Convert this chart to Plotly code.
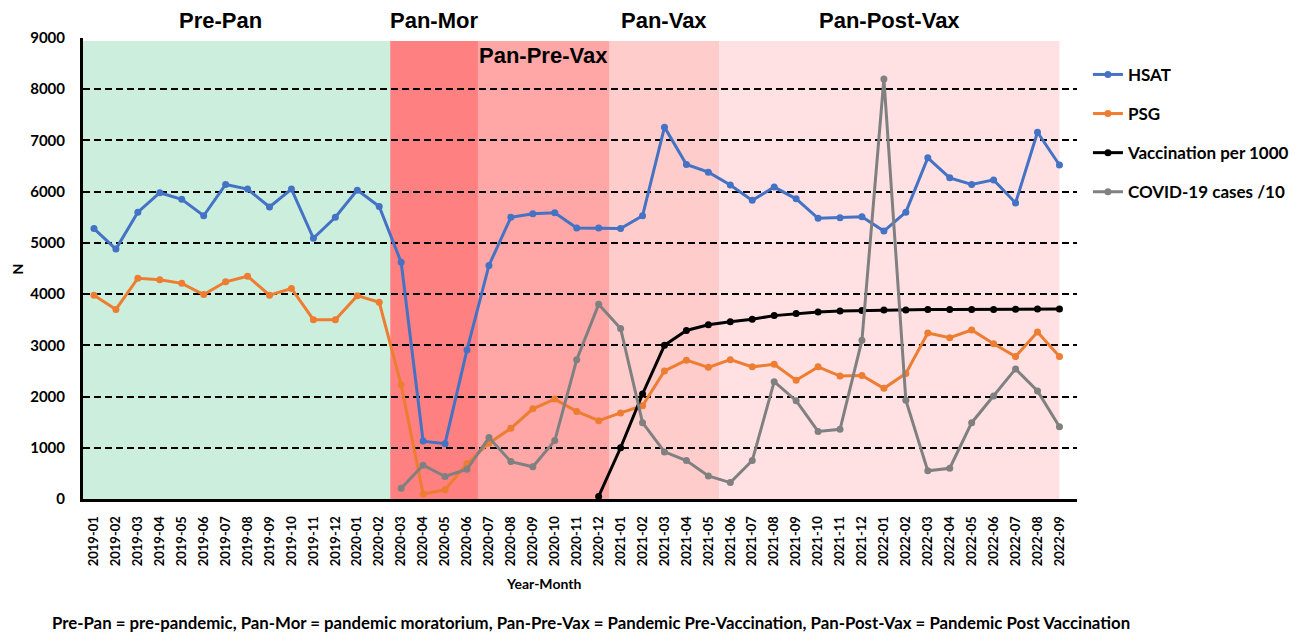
import plotly.graph_objects as go

months = [f"{y}-{m:02d}" for y in (2019, 2020, 2021) for m in range(1, 13)] + [f"2022-{m:02d}" for m in range(1, 10)]

hsat = [5280, 4880, 5600, 5980, 5850, 5530, 6140, 6050, 5700, 6050, 5090, 5500,
        6030, 5710, 4620, 1130, 1080, 2910, 4560, 5500, 5570, 5590, 5290, 5290,
        5280, 5530, 7260, 6530, 6380, 6130, 5830, 6090, 5860, 5480, 5490, 5510,
        5230, 5600, 6660, 6270, 6140, 6230, 5780, 7160, 6520]

psg = [3980, 3700, 4310, 4280, 4210, 3990, 4240, 4350, 3980, 4110, 3500, 3500,
       3970, 3840, 2230, 100, 180, 690, 1090, 1380, 1760, 1950, 1710, 1530,
       1680, 1820, 2500, 2710, 2570, 2720, 2580, 2630, 2320, 2580, 2400, 2410,
       2160, 2450, 3240, 3150, 3300, 3030, 2780, 3260, 2780]

vacc = [None] * 23 + [50, 1000, 2050, 3000, 3290, 3400, 3460, 3510, 3580, 3620, 3650,
                      3670, 3680, 3690, 3690, 3700, 3700, 3700, 3700, 3705, 3710, 3710]

covid = [None] * 14 + [210, 660, 440, 580, 1200, 730, 630, 1140, 2720, 3800,
                       3330, 1490, 920, 750, 450, 320, 750, 2290, 1920, 1320, 1360, 3100,
                       8200, 1930, 550, 600, 1490, 2010, 2540, 2110, 1410]

regions = [
    ("Pre-Pan", "2019-01", "2020-02", "rgb(204,238,221)", "top", -16),
    ("Pan-Mor", "2020-03", "2020-06", "rgb(255,128,128)", "top", 0),
    ("Pan-Pre-Vax", "2020-07", "2020-12", "rgb(255,166,166)", "inner", 0),
    ("Pan-Vax", "2021-01", "2021-05", "rgb(255,204,204)", "top", 0),
    ("Pan-Post-Vax", "2021-06", "2022-09", "rgb(255,225,228)", "top", 0),
]

series = [
    ("HSAT", hsat, "#4472C4"),
    ("PSG", psg, "#ED7D31"),
    ("Vaccination per 1000", vacc, "#000000"),
    ("COVID-19 cases /10", covid, "#808080"),
]

fig = go.Figure()
for i, (name, vals, col) in enumerate(series):
    fig.add_trace(go.Scatter(
        x=months, y=vals, name=name, mode="lines+markers",
        line=dict(color=col, width=3), marker=dict(color=col, size=7),
        legendgroup=f"g{i}", connectgaps=False))

last = len(months) - 1
for name, s, e, col, pos, xs in regions:
    i0 = months.index(s) - 0.5
    i1 = min(months.index(e) + 0.5, last)
    fig.add_shape(type="rect", xref="x", yref="y", x0=i0, x1=i1, y0=0, y1=8940,
                  fillcolor=col, line=dict(width=0), layer="below")
    fig.add_annotation(x=(i0 + i1) / 2, xref="x",
                       y=1.039 if pos == "top" else 0.961, yref="paper",
                       text=name, showarrow=False, xshift=xs, xanchor="center", yanchor="middle",
                       font=dict(family="Liberation Sans", size=22, color="black", weight="bold"))

fig.add_annotation(x=0.463, xref="paper", y=-0.184, yref="paper", text="Year-Month",
                   showarrow=False, xanchor="center", yanchor="middle",
                   font=dict(family="Lato", size=14, color="black", weight="bold"))
fig.add_annotation(x=-0.0655, xref="paper", y=0.5, yref="paper", text="N", textangle=-90,
                   showarrow=False, xanchor="center", yanchor="middle",
                   font=dict(family="Lato", size=14, color="black", weight="bold"))
fig.add_annotation(x=0.511, xref="paper", y=-0.267, yref="paper",
                   text="Pre-Pan = pre-pandemic, Pan-Mor = pandemic moratorium, Pan-Pre-Vax = Pandemic Pre-Vaccination, Pan-Post-Vax = Pandemic Post Vaccination",
                   showarrow=False, xanchor="center", yanchor="middle",
                   font=dict(family="Lato", size=16.8, color="black", weight="bold"))

fig.update_layout(
    width=1310, height=633,
    margin=dict(l=83, r=233, t=38, b=134),
    paper_bgcolor="white", plot_bgcolor="white",
    showlegend=True,
    legend=dict(x=1.011, xanchor="left", y=0.959, yanchor="top",
                traceorder="grouped", tracegroupgap=14,
                font=dict(family="Lato", size=17, color="black", weight="bold"),
                bgcolor="rgba(0,0,0,0)"),
    xaxis=dict(type="category", range=[-0.5, 44.8], tickmode="linear", dtick=1,
               tickangle=-90, showgrid=False, showline=True, linecolor="black", linewidth=3,
               ticks="", ticklabelstandoff=9,
               tickfont=dict(family="Lato", size=13, color="black", weight="bold")),
    yaxis=dict(range=[0, 9000], dtick=1000, showgrid=True, gridcolor="black", gridwidth=1.5,
               griddash="7px,4px", zeroline=False, showline=True, linecolor="black", linewidth=3,
               ticks="", ticklabelstandoff=12,
               tickfont=dict(family="Lato", size=15, color="black", weight="bold")),
)

fig.write_html("out.html", config={"displayModeBar": False},
               post_script="document.body.style.margin='0';")
